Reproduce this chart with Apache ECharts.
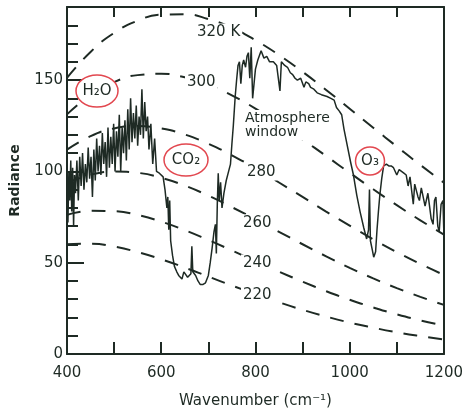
<!DOCTYPE html>
<html>
<head>
<meta charset="utf-8">
<script src="https://cdn.jsdelivr.net/npm/echarts@6/dist/echarts.min.js"></script>
<style>
html, body { margin: 0; padding: 0; background: #fff; }
#main { width: 466px; height: 414px; }
</style>
</head>
<body>
<div id="main"></div>
<script>
var wavenumbers = [400, 402, 404, 406, 408, 410, 412, 414, 416, 418, 421, 424, 427, 430, 433, 436, 439, 442, 445, 448,
	451, 454, 457, 460, 463, 466, 469, 472, 475, 478, 481, 484, 487, 490, 493, 496, 499, 502, 505, 508,
	511, 514, 517, 520, 523, 526, 529, 532, 535, 538, 541, 544, 547, 550, 553, 556, 559, 562, 565, 568,
	571, 574, 578, 582, 586, 590, 596, 604, 608, 612, 614, 616, 618, 620, 624, 628, 633, 637, 641, 644,
	648, 652, 656, 660, 663, 665, 667, 673, 678, 683, 688, 694, 700, 704, 708, 712, 715, 717, 719, 721,
	723, 726, 729, 733, 738, 743, 747, 750, 753, 757, 760, 763, 766, 769, 772, 775, 779, 782, 785, 788,
	791, 794, 797, 800, 805, 812, 818, 824, 830, 838, 845, 849, 852, 855, 862, 868, 874, 879, 884, 889,
	896, 900, 903, 907, 913, 917, 924, 931, 940, 952, 960, 967, 972, 978, 983, 988, 995, 1002, 1008, 1015,
	1022, 1030, 1036, 1040, 1042, 1044, 1048, 1051, 1055, 1058, 1061, 1064, 1068, 1072, 1078, 1083, 1088, 1093, 1100, 1105,
	1110, 1115, 1120, 1124, 1128, 1131, 1135, 1138, 1141, 1145, 1148, 1152, 1156, 1160, 1163, 1166, 1169, 1173, 1177, 1180,
	1183, 1187, 1190, 1194, 1198, 1200];
var radiance = [95, 72, 100, 84, 106, 78, 102, 70, 98, 88, 106, 84, 108, 92, 110, 90, 104, 94, 113, 96,
	108, 86, 112, 95, 118, 100, 114, 98, 121, 104, 116, 97, 124, 102, 119, 104, 126, 100, 122, 108,
	131, 100, 124, 110, 128, 106, 134, 112, 140, 116, 132, 118, 136, 114, 130, 120, 145, 118, 138, 122,
	130, 112, 126, 104, 118, 100, 99, 97, 90, 80, 86, 68, 84, 62, 54, 48, 45, 43, 42, 41,
	45, 46, 42, 41, 44, 59, 45, 43, 40, 38, 38, 39, 43, 50, 58, 67, 71, 55, 82, 99,
	84, 94, 80, 88, 95, 100, 104, 115, 125, 141, 150, 158, 160, 148, 158, 161, 157, 163, 165, 151,
	168, 140, 148, 156, 161, 166, 162, 163, 160, 160, 158, 159, 144, 160, 158, 157, 154, 153, 151, 150,
	151, 150, 146, 149, 148, 146, 145, 143, 142, 141, 140, 139, 135, 133, 131, 123, 114, 105, 98, 87,
	78, 69, 63, 68, 90, 62, 57, 53, 56, 68, 78, 87, 96, 103, 104, 103, 103, 102, 98, 101,
	100, 99, 98, 92, 97, 96, 82, 93, 92, 86, 84, 91, 90, 81, 80, 88, 87, 74, 71, 84,
	86, 70, 67, 82, 84, 65];

// blackbody reference curves, sampled every 50 cm-1
var planckNu = [400, 450, 500, 550, 600, 650, 700, 750, 800, 850, 900, 950, 1000, 1050, 1100, 1150, 1200];
var bb320 = [151.2, 165.4, 175.8, 182.5, 185.8, 186.0, 183.4, 178.6, 171.8, 163.7, 154.5, 144.6, 134.3, 123.9, 113.6, 103.5, 93.8];
var bb300 = [131.2, 141.8, 148.9, 152.7, 153.4, 151.5, 147.5, 141.6, 134.4, 126.2, 117.5, 108.4, 99.2, 90.2, 81.5, 73.2, 65.4];
var bb280 = [111.9, 119.3, 123.5, 124.8, 123.5, 120.2, 115.1, 108.8, 101.6, 93.9, 86.0, 78.0, 70.3, 62.8, 55.8, 49.3, 43.3];
var bb260 = [93.6, 98.1, 99.9, 99.2, 96.5, 92.2, 86.7, 80.4, 73.8, 66.9, 60.1, 53.5, 47.2, 41.4, 36.1, 31.3, 26.9];
var bb240 = [76.2, 78.4, 78.2, 76.1, 72.5, 67.8, 62.4, 56.7, 50.8, 45.1, 39.6, 34.4, 29.7, 25.5, 21.7, 18.4, 15.5];
var bb220 = [60.1, 60.4, 58.8, 55.8, 51.9, 47.3, 42.4, 37.5, 32.8, 28.3, 24.2, 20.5, 17.2, 14.4, 11.9, 9.8, 8.0];
var curveNames = ['320 K', '300', '280', '260', '240', '220'];

var ink = '#1e2a24';
var ringColor = '#e2474f';
var font = '"DejaVu Sans", sans-serif';

function pairs(xs, ys) {
	return xs.map(function (x, i) { return [x, ys[i]]; });
}

var dashedSeries = [bb320, bb300, bb280, bb260, bb240, bb220].map(function (ys, i) {
	return {
		name: curveNames[i],
		type: 'line',
		data: pairs(planckNu, ys),
		smooth: true,
		symbol: 'none',
		silent: true,
		z: 2,
		lineStyle: { color: ink, width: 2, type: [14, 11] }
	};
});

function label(text, x, y, size) {
	return {
		type: 'text', x: x, y: y, z: 20,
		style: {
			text: text, fill: ink, fontSize: size || 15, fontFamily: font,
			align: 'left', verticalAlign: 'middle',
			backgroundColor: '#fff', padding: [1, 2]
		}
	};
}

function ring(cx, cy, rx, ry, text) {
	return {
		type: 'group', z: 20,
		children: [{
			type: 'ellipse', z: 20,
			shape: { cx: cx, cy: cy, rx: rx, ry: ry },
			style: { fill: '#fff', stroke: ringColor, lineWidth: 1.5 }
		}, {
			type: 'text', z: 21, x: cx, y: cy,
			style: { text: text, fill: ink, fontSize: 15, fontFamily: font, align: 'center', verticalAlign: 'middle' }
		}]
	};
}

var myChart = echarts.init(document.getElementById('main'));

var option = {
	animation: false,
	backgroundColor: '#fff',
	grid: { left: 67, right: 18, top: 7, bottom: 57 },
	xAxis: [{
		type: 'value', min: 400, max: 1200, interval: 100, position: 'bottom',
		name: 'Wavenumber (cm\u207b\u00b9)', nameLocation: 'middle', nameGap: 40,
		nameTextStyle: { fontSize: 15, color: ink, fontFamily: font },
		axisLine: { onZero: false, lineStyle: { color: ink, width: 2 } },
		axisTick: { inside: true, length: 12, lineStyle: { color: ink, width: 2 } },
		axisLabel: {
			fontSize: 15, color: ink, fontFamily: font, margin: 12,
			formatter: function (v) { return v % 200 === 0 ? String(v) : ''; }
		},
		splitLine: { show: false }
	}, {
		type: 'value', min: 400, max: 1200, interval: 100, position: 'top',
		axisLine: { onZero: false, lineStyle: { color: ink, width: 2 } },
		axisTick: { inside: true, length: 10, lineStyle: { color: ink, width: 2 } },
		axisLabel: { show: false },
		splitLine: { show: false }
	}],
	yAxis: [{
		type: 'value', min: 0, max: 190, interval: 10, position: 'left',
		name: 'Radiance', nameLocation: 'middle', nameGap: 45, nameRotate: 90,
		nameTextStyle: { fontSize: 14, fontWeight: 'bold', color: ink, fontFamily: font },
		axisLine: { show: true, onZero: false, lineStyle: { color: ink, width: 2 } },
		axisTick: { inside: true, length: 11, lineStyle: { color: ink, width: 2 } },
		axisLabel: {
			fontSize: 15, color: ink, fontFamily: font, margin: 4,
			formatter: function (v) { return v % 50 === 0 ? String(v) : ''; }
		},
		splitLine: { show: false }
	}, {
		type: 'value', min: 0, max: 190, interval: 10, position: 'right',
		axisLine: { show: true, onZero: false, lineStyle: { color: ink, width: 2 } },
		axisTick: { show: false },
		axisLabel: { show: false },
		splitLine: { show: false }
	}, {
		// longer ticks every 50
		type: 'value', min: 0, max: 190, interval: 50, position: 'left', offset: 0,
		axisLine: { show: false },
		axisTick: { inside: true, length: 17, lineStyle: { color: ink, width: 2 } },
		axisLabel: { show: false },
		splitLine: { show: false }
	}],
	series: dashedSeries.concat([{
		name: 'spectrum',
		type: 'line',
		data: pairs(wavenumbers, radiance),
		symbol: 'none',
		z: 3,
		lineStyle: { color: ink, width: 1.5 }
	}]),
	graphic: [
		label('320 K', 195, 32),
		label('300', 185, 82),
		label('Atmosphere\nwindow', 243, 125, 14),
		label('280', 245, 172),
		label('260', 241, 223),
		label('240', 241, 263),
		label('220', 241, 295),
		ring(97, 91, 21, 16, 'H\u2082O'),
		ring(186, 160, 22, 16, 'CO\u2082'),
		ring(370, 161, 14.5, 14, 'O\u2083')
	]
};

myChart.setOption(option);
</script>
</body>
</html>
